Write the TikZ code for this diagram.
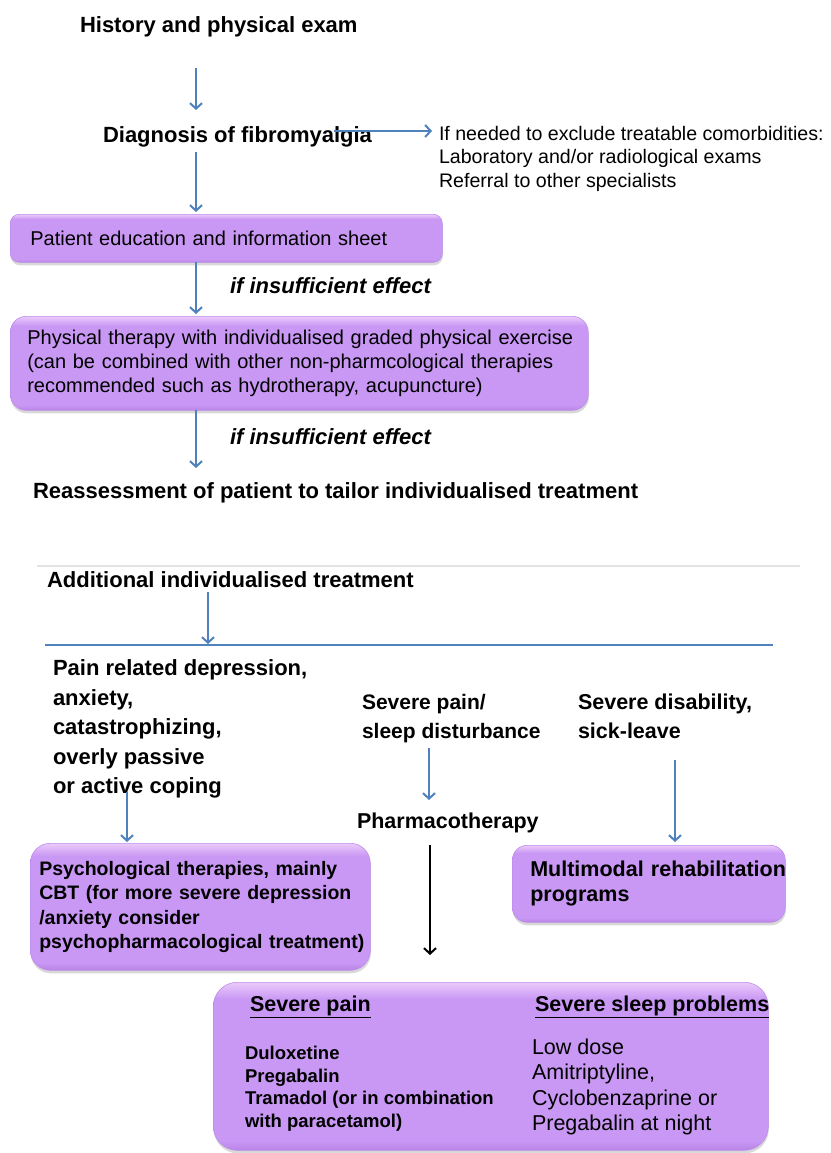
\documentclass[tikz,border=0pt]{standalone}
\usepackage{fontspec}
\setmainfont{Liberation Sans}
\usetikzlibrary{arrows.meta,shadows}
\definecolor{arrowblue}{HTML}{4F81BD}
\definecolor{boxmain}{HTML}{C997F4}
\definecolor{boxlight}{HTML}{EBCBFA}
\definecolor{boxdark}{HTML}{B885E6}
\definecolor{boxedge}{HTML}{BE8CEC}
\definecolor{sepgray}{HTML}{E4E4E4}
\pgfdeclareverticalshading{pboxshade}{100bp}{color(0bp)=(boxdark); color(25bp)=(boxdark); color(28bp)=(boxmain); color(70bp)=(boxmain); color(75bp)=(boxlight); color(100bp)=(boxlight)}
\tikzset{
  txt/.style={inner sep=0pt, outer sep=0pt, anchor=west, text=black},
  hd/.style={txt, font=\fontsize{22}{26}\selectfont\bfseries},
  ital/.style={txt, font=\fontsize{22}{26}\selectfont\bfseries\itshape},
  pbox/.style={shade, shading=pboxshade, draw=boxedge, line width=0.6pt,
    drop shadow={shadow xshift=0.5pt, shadow yshift=-3pt, opacity=0.3},
    anchor=north west, inner ysep=0pt, align=left, text=black},
  barrow/.style={draw=arrowblue, line width=2pt, -{Straight Barb[length=5.5pt,width=12pt]}},
  karrow/.style={draw=black, line width=2pt, -{Straight Barb[length=5.5pt,width=12pt]}}
}
\begin{document}
\begin{tikzpicture}[x=1pt,y=-1pt]
\useasboundingbox[fill=white] (0,0) rectangle (830,1153);

% top flow
\node[hd] (hist) at (80,27) {History and physical exam};
\node[hd] (diag) at (103,137) {Diagnosis of fibromyalgia};
\node[txt, anchor=north west, align=left, font=\fontsize{19.6}{23.5}\selectfont] (comorb) at (439,126)
  {If needed to exclude treatable comorbidities:\\Laboratory and/or radiological exams\\Referral to other specialists};

\node[pbox, rounded corners=9pt, minimum width=432pt, minimum height=48pt, inner xsep=20pt, text width=392pt,
  font=\fontsize{20}{24}\selectfont] (edu) at (10,214) {\mbox{Patient education and information sheet}};
\node[ital] (ins1) at (230,286) {if insufficient effect};
\node[pbox, rounded corners=16pt, minimum width=578pt, minimum height=94pt, inner xsep=17pt, text width=544pt,
  font=\fontsize{20}{24}\selectfont] (phys) at (10,316)
  {\mbox{Physical therapy with individualised graded physical exercise}\\\mbox{(can be combined with other non-pharmcological therapies}\\\mbox{recommended such as hydrotherapy, acupuncture)}};
\node[ital] (ins2) at (230,437) {if insufficient effect};
\node[hd] (reass) at (33,493) {Reassessment of patient to tailor individualised treatment};

% separator
\coordinate (sepL) at (37,566);
\coordinate (sepR) at (800,566);
\draw[sepgray, line width=1.2pt] (sepL) -- (sepR);

\node[hd] (addl) at (47,580) {Additional individualised treatment};
\coordinate (hl) at (45,645);
\coordinate (hr) at (773,645);
\draw[arrowblue, line width=2.2pt] (hl) -- (hr);

% categories
\node[hd, anchor=north west, align=left, font=\fontsize{22}{29.5}\selectfont\bfseries] (cat1) at (53,660)
  {Pain related depression,\\anxiety,\\catastrophizing,\\overly passive\\or active coping};
\node[hd, anchor=north west, align=left, font=\fontsize{21}{29}\selectfont\bfseries] (cat2) at (362,694)
  {Severe pain/\\sleep disturbance};
\node[hd, anchor=north west, align=left, font=\fontsize{21.5}{29}\selectfont\bfseries] (cat3) at (578,694)
  {Severe disability,\\sick-leave};
\node[hd, font=\fontsize{21.5}{26}\selectfont\bfseries] (pharma) at (357,823) {Pharmacotherapy};

% boxes lower
\node[pbox, rounded corners=20pt, minimum width=340pt, minimum height=127pt, inner xsep=9pt, text width=322pt,
  font=\fontsize{19.5}{24.5}\selectfont\bfseries] (psych) at (30,843)
  {\mbox{Psychological therapies, mainly}\\\mbox{CBT (for more severe depression}\\\mbox{/anxiety consider}\\\mbox{psychopharmacological treatment)}};
\node[pbox, rounded corners=15pt, minimum width=273pt, minimum height=77pt, inner xsep=18pt, text width=237pt,
  font=\fontsize{21.5}{25}\selectfont\bfseries] (multi) at (512,845)
  {\mbox{Multimodal rehabilitation}\\\mbox{programs}};
\node[pbox, rounded corners=24pt, minimum width=555pt, minimum height=168pt] (pbx) at (213,982) {};

\node[txt, font=\fontsize{21.5}{26}\selectfont\bfseries] (sp) at (250,1007) {\underline{Severe pain}};
\node[txt, font=\fontsize{21.5}{26}\selectfont\bfseries] (ssp) at (535,1007) {\underline{Severe sleep problems}};
\node[txt, anchor=north west, align=left, font=\fontsize{18.5}{22.7}\selectfont\bfseries] (drugs) at (245,1046)
  {Duloxetine\\Pregabalin\\Tramadol (or in combination\\with paracetamol)};
\node[txt, anchor=north west, align=left, font=\fontsize{21.5}{25.3}\selectfont] (sleepd) at (532,1039)
  {Low dose\\Amitriptyline,\\Cyclobenzaprine or\\Pregabalin at night};

% arrows
\coordinate (a1s) at (196,68);   \coordinate (a1e) at (196,110);
\coordinate (a2s) at (334,131);  \coordinate (a2e) at (432,131);
\coordinate (a3s) at (196,152);  \coordinate (a3e) at (196,212);
\coordinate (a4s) at (196,262);  \coordinate (a4e) at (196,314);
\coordinate (a5s) at (196,410);  \coordinate (a5e) at (196,468);
\coordinate (a6s) at (208,592);  \coordinate (a6e) at (208,644);
\coordinate (a7s) at (127,792);  \coordinate (a7e) at (127,842);
\coordinate (a8s) at (429,748);  \coordinate (a8e) at (429,800);
\coordinate (a9s) at (675,760);  \coordinate (a9e) at (675,842);
\coordinate (a10s) at (430,845); \coordinate (a10e) at (430,955);
\draw[barrow] (a1s) -- (a1e);
\draw[barrow] (a2s) -- (a2e);
\draw[barrow] (a3s) -- (a3e);
\draw[barrow] (a4s) -- (a4e);
\draw[barrow] (a5s) -- (a5e);
\draw[barrow] (a6s) -- (a6e);
\draw[barrow] (a7s) -- (a7e);
\draw[barrow] (a8s) -- (a8e);
\draw[barrow] (a9s) -- (a9e);
\draw[karrow] (a10s) -- (a10e);
\end{tikzpicture}
\end{document}
